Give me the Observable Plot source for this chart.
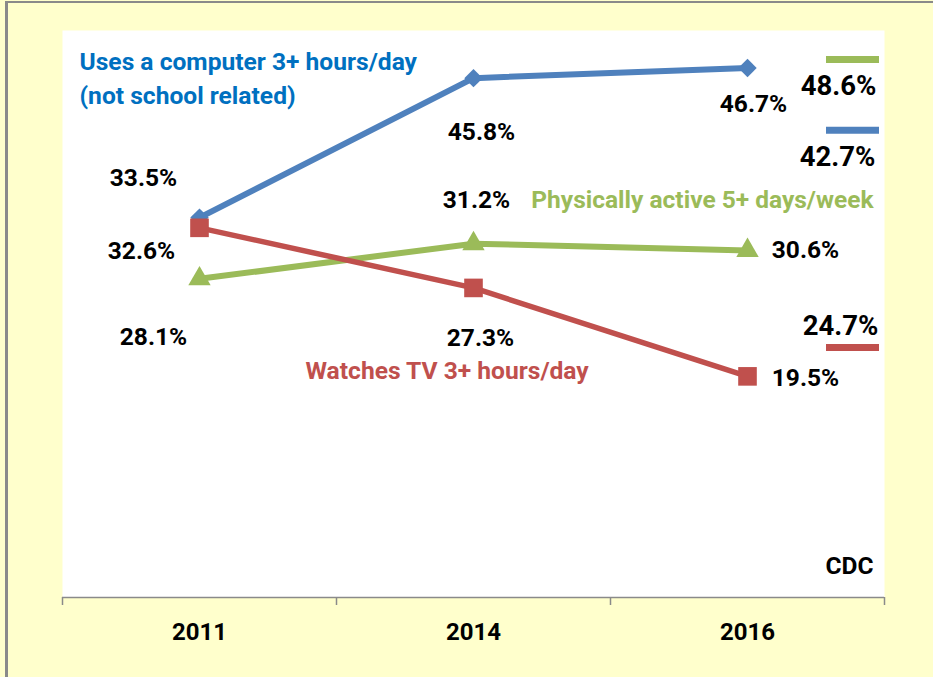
<!DOCTYPE html>
<html>
<head>
<meta charset="utf-8">
<script src="https://cdn.jsdelivr.net/npm/d3@7"></script>
<script src="https://cdn.jsdelivr.net/npm/@observablehq/plot@0.6"></script>
<style>
  html, body { margin: 0; padding: 0; width: 933px; height: 677px; overflow: hidden; background: #FFFFCC; }
  #bg { position: absolute; left: 5px; top: 1px; width: 960px; height: 720px;
        background: #FFFFCC; border-left: 3px solid #8a8a8a; border-top: 2px solid #8a8a8a; }
  #chart { position: absolute; left: 0; top: 0; }
</style>
</head>
<body>
<div id="bg"></div>
<div id="chart"></div>
<script>
// ---- data ----
const years = ["2011", "2014", "2016"];
const computer = [33.5, 45.8, 46.7];   // Uses a computer 3+ hours/day
const tv = [32.6, 27.3, 19.5];         // Watches TV 3+ hours/day
const active = [28.1, 31.2, 30.6];     // Physically active 5+ days/week
const targetActive = 48.6;
const targetComputer = 42.7;
const targetTv = 24.7;
const seriesNames = {
  computer: "Uses a computer 3+ hours/day\n(not school related)",
  tv: "Watches TV 3+ hours/day",
  active: "Physically active 5+ days/week"
};
const source = "CDC";

// ---- styles ----
const BLUE = "#4F81BD", RED = "#C0504D", GREEN = "#9BBB59", BLUE_TXT = "#0070C0";
const FONT = "Roboto, 'Open Sans', sans-serif";
const idx = years.map((_, i) => i);
const xc = i => i + 0.5;
const pct = v => d3.format(".1f")(v) + "%";

const dash = { draw(ctx) { ctx.rect(-26.5, -3.5, 53, 7); } };

function lbl(series, i, dx, dy, size = 24.5) {
  return Plot.text([i], {
    x: xc, y: j => series[j], text: j => pct(series[j]),
    dx, dy, fontSize: size, fontWeight: 700, fill: "#000", lineAnchor: "middle"
  });
}
function target(value, color, dashDy, textDy, textDx) {
  return [
    Plot.dot([value], { x: () => 2.5, y: v => v, symbol: dash, fill: color, stroke: "none", dx: 105, dy: dashDy }),
    Plot.text([value], { x: () => 2.5, y: v => v, text: v => pct(v), dx: textDx, dy: textDy,
      fontSize: 27.5, fontWeight: 700, fill: "#000", lineAnchor: "middle" })
  ];
}

const chart = Plot.plot({
  width: 933,
  height: 677,
  marginLeft: 62,
  marginRight: 49,
  marginTop: 30,
  marginBottom: 80,
  style: { background: "transparent", fontFamily: FONT, overflow: "visible" },
  x: { type: "linear", domain: [0, years.length], axis: null },
  y: { domain: [0, 50], axis: null },
  marks: [
    Plot.frame({ fill: "white", stroke: "none" }),
    Plot.axisX({ ticks: d3.range(years.length + 1), tickSize: 8, tickFormat: () => "", stroke: "#8a8a8a", strokeWidth: 1.5 }),
    Plot.ruleY([0], { stroke: "#8a8a8a", strokeWidth: 1.5 }),
    Plot.text(idx, { x: xc, frameAnchor: "bottom", text: i => years[i], dy: 35,
      fontSize: 24, fontWeight: 700, fill: "#000", lineAnchor: "middle" }),

    // series lines and markers
    Plot.line(idx, { x: xc, y: i => computer[i], stroke: BLUE, strokeWidth: 6 }),
    Plot.dot(idx, { x: xc, y: i => computer[i], symbol: "diamond2", r: 8.3, fill: BLUE, stroke: "none" }),
    Plot.line(idx, { x: xc, y: i => active[i], stroke: GREEN, strokeWidth: 6 }),
    Plot.dot(idx, { x: xc, y: i => active[i], symbol: "triangle", r: 8.3, fill: GREEN, stroke: "none" }),
    Plot.line(idx, { x: xc, y: i => tv[i], stroke: RED, strokeWidth: 5.5 }),
    Plot.dot(idx, { x: xc, y: i => tv[i], symbol: "square", r: 10.5, fill: RED, stroke: "none" }),

    // value labels
    lbl(computer, 0, -56, -39), lbl(computer, 1, 8, 54), lbl(computer, 2, 6, 36),
    lbl(tv, 0, -58, 23), lbl(tv, 1, 7, 50), lbl(tv, 2, 58, 2),
    lbl(active, 0, -46, 58), lbl(active, 1, 3, -44), lbl(active, 2, 58, 0),

    // targets
    ...target(targetActive, GREEN, 13, 40, 91),
    ...target(targetComputer, BLUE, 17, 44, 90),
    ...target(targetTv, RED, 30, 9, 93),

    // series names
    Plot.text([seriesNames.computer], { frameAnchor: "top-left", textAnchor: "start", lineAnchor: "middle",
      dx: 17, dy: 46, lineHeight: 1.38, fontSize: 24.6, fontWeight: 700, fill: BLUE_TXT }),
    Plot.text([seriesNames.active], { frameAnchor: "top-right", textAnchor: "end", lineAnchor: "middle",
      dx: -11, dy: 170, fontSize: 24.5, fontWeight: 700, fill: GREEN }),
    Plot.text([seriesNames.tv], { frameAnchor: "top-left", textAnchor: "start", lineAnchor: "middle",
      dx: 243, dy: 341, fontSize: 24.6, fontWeight: 700, fill: RED }),
    Plot.text([source], { frameAnchor: "bottom-right", textAnchor: "end", lineAnchor: "middle",
      dx: -11, dy: -31, fontSize: 24.5, fontWeight: 700, fill: "#000" })
  ]
});
document.getElementById("chart").append(chart);
</script>
</body>
</html>
